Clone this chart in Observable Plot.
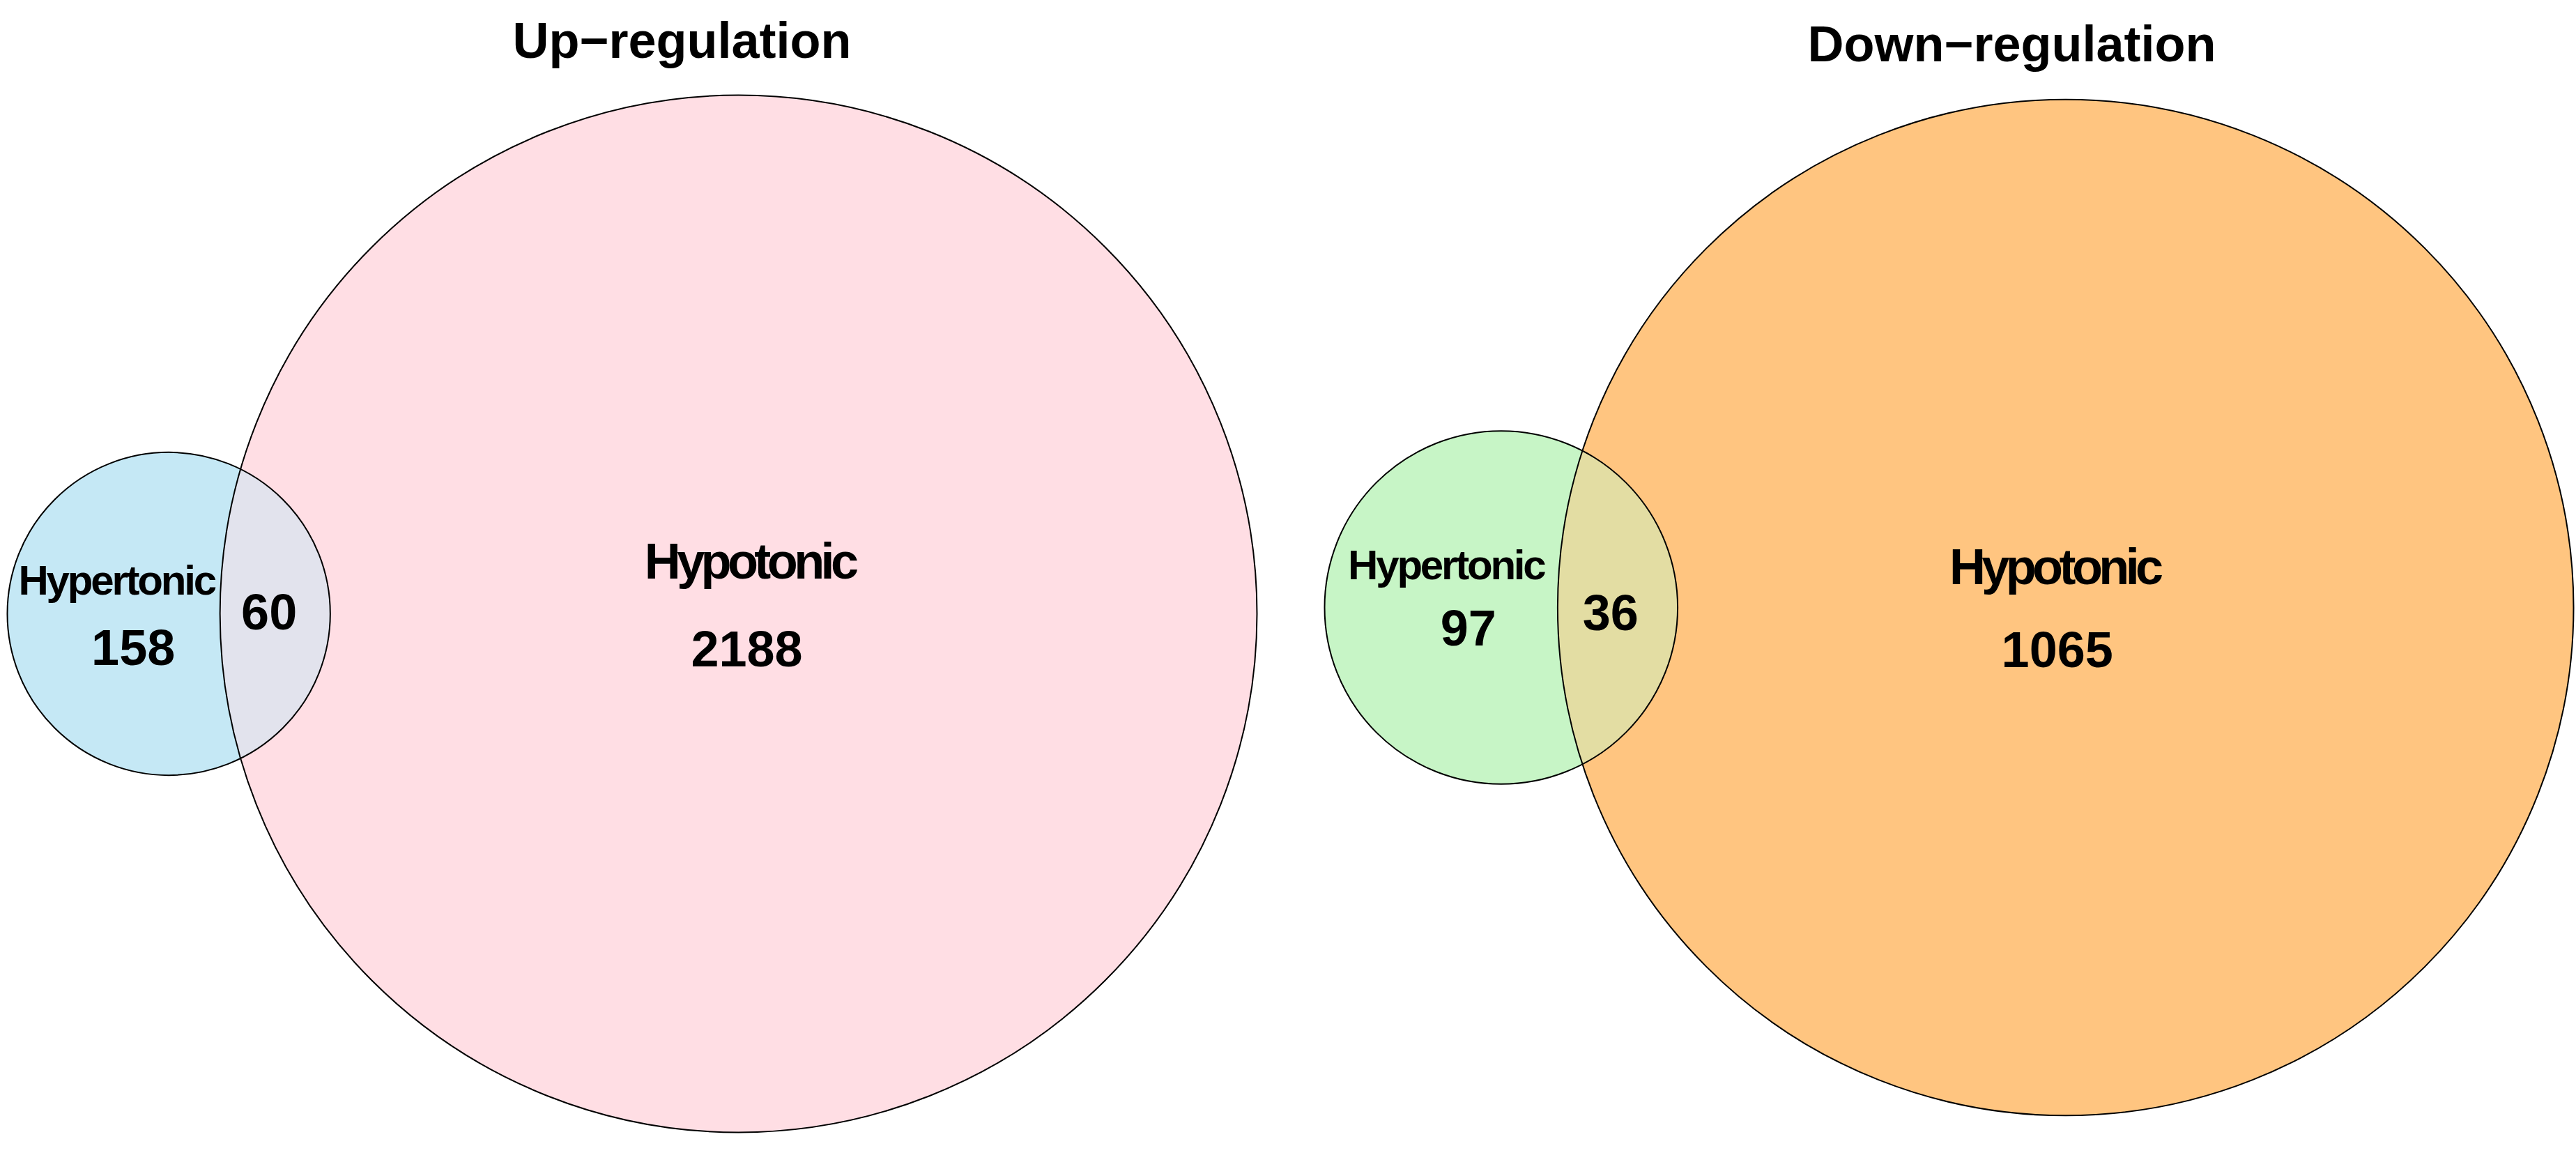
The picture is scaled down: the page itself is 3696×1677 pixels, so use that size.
<!DOCTYPE html>
<html>
<head>
<meta charset="utf-8">
<script src="https://cdn.jsdelivr.net/npm/d3@7"></script>
<script src="https://cdn.jsdelivr.net/npm/@observablehq/plot@0.6"></script>
<style>
  html, body { margin: 0; padding: 0; background: #fff; }
  #chart { display: flex; width: 3696px; height: 1677px; overflow: hidden; }
  #chart svg { flex: none; }
</style>
</head>
<body>
<div id="chart"></div>
<script>
// ---- data ----
const panels = ["Up\u2212regulation", "Down\u2212regulation"];
const setNames = ["Hypertonic", "Hypotonic"];
const onlyFirst = [158, 97];      // Hypertonic only
const both = [60, 36];            // overlap
const onlySecond = [2188, 1065];  // Hypotonic only

// ---- styles ----
const fills = [["#c5e8f5", "#ffdee4"], ["#c7f5c6", "#ffc580"]];
const FONT = "'Liberation Sans', Arial, Helvetica, sans-serif";
const W = 1848, H = 1677;
const layout = [
  {mL: 10, mR: 45, cy: 880, title: [978, 82],
   name1: [-75, -28], count1: [-51, 73], lens: [144, 22], name2: [16, -51], count2: [12, 75]},
  {mL: 52, mR: 4, cy: 871, title: [1038, 87],
   name1: [-79, -41], count1: [-47, 54], lens: [157, 32], name2: [-16, -34], count2: [-12, 85]}
];

// area-proportional two-circle geometry
function lensArea(r1, r2, d) {
  if (d >= r1 + r2) return 0;
  if (d <= Math.abs(r2 - r1)) return Math.PI * Math.min(r1, r2) ** 2;
  const a = r1 * r1 * Math.acos((d * d + r1 * r1 - r2 * r2) / (2 * d * r1));
  const b = r2 * r2 * Math.acos((d * d + r2 * r2 - r1 * r1) / (2 * d * r2));
  const c = 0.5 * Math.sqrt((-d + r1 + r2) * (d + r1 - r2) * (d - r1 + r2) * (d + r1 + r2));
  return a + b - c;
}
function solveDistance(r1, r2, target) {
  let lo = Math.abs(r2 - r1), hi = r1 + r2;
  for (let i = 0; i < 80; i++) {
    const mid = (lo + hi) / 2;
    if (lensArea(r1, r2, mid) > target) lo = mid; else hi = mid;
  }
  return (lo + hi) / 2;
}

const chart = document.getElementById("chart");

panels.forEach((title, i) => {
  const n1 = onlyFirst[i] + both[i];
  const n2 = onlySecond[i] + both[i];
  const r1 = Math.sqrt(n1 / Math.PI);
  const r2 = Math.sqrt(n2 / Math.PI);
  const d = solveDistance(r1, r2, both[i]);
  const L = layout[i];
  const x0 = -r1, x1 = d + r2;
  const k = (W - L.mL - L.mR) / (x1 - x0);

  const small = {set: setNames[0], x: 0, y: 0, r: r1 * k};
  const big = {set: setNames[1], x: d, y: 0, r: r2 * k};
  const circles = [small, big];

  const textBase = {textAnchor: "middle", lineAnchor: "bottom", fill: "black", fontWeight: "bold", fontFamily: FONT};

  const svg = Plot.plot({
    width: W,
    height: H,
    marginLeft: L.mL,
    marginRight: L.mR,
    marginTop: 0,
    marginBottom: 0,
    x: {domain: [x0, x1], axis: null},
    y: {domain: [-(H - L.cy) / k, L.cy / k], range: [H, 0], axis: null},
    r: {type: "identity"},
    style: {fontFamily: FONT, background: "white", overflow: "visible"},
    marks: [
      Plot.dot([small], {x: "x", y: "y", r: "r", fill: fills[i][0]}),
      Plot.dot([big], {x: "x", y: "y", r: "r", fill: fills[i][1]}),
      Plot.dot([small], {x: "x", y: "y", r: "r", fill: fills[i][0], fillOpacity: 0.5}),
      Plot.dot(circles, {x: "x", y: "y", r: "r", fill: "none", stroke: "black", strokeWidth: 2}),
      Plot.text([title], {...textBase, text: (t) => t, frameAnchor: "top-left",
        dx: L.title[0] - L.mL, dy: L.title[1], fontSize: 72}),
      Plot.text([small], {...textBase, x: "x", y: "y", text: "set", dx: L.name1[0], dy: L.name1[1],
        fontSize: 60}),
      Plot.text([small], {...textBase, x: "x", y: "y", text: () => String(onlyFirst[i]),
        dx: L.count1[0], dy: L.count1[1], fontSize: 72}),
      Plot.text([small], {...textBase, x: "x", y: "y", text: () => String(both[i]),
        dx: L.lens[0], dy: L.lens[1], fontSize: 72}),
      Plot.text([big], {...textBase, x: "x", y: "y", text: "set", dx: L.name2[0], dy: L.name2[1],
        fontSize: 72}),
      Plot.text([big], {...textBase, x: "x", y: "y", text: () => String(onlySecond[i]),
        dx: L.count2[0], dy: L.count2[1], fontSize: 72})
    ]
  });

  d3.select(svg).selectAll("text").each(function () {
    const t = this.textContent;
    if (t === setNames[0]) this.style.letterSpacing = "-3.2px";
    else if (t === setNames[1]) this.style.letterSpacing = "-5.6px";
  });
  svg.style.maxWidth = "none";
  chart.appendChild(svg);
});
</script>
</body>
</html>
